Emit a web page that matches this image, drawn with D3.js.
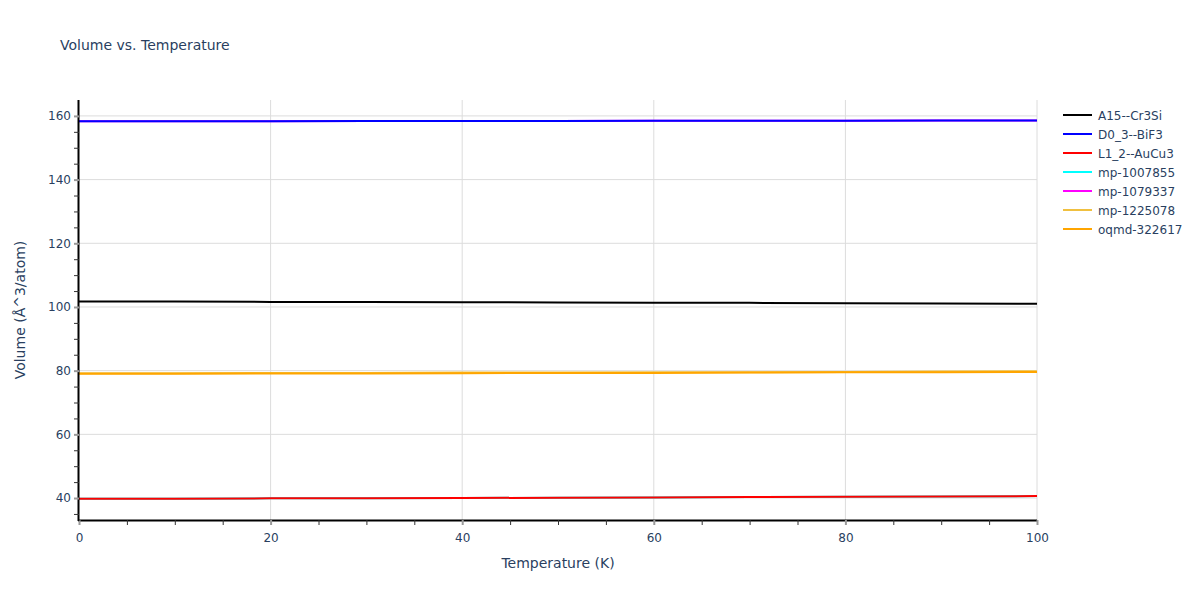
<!DOCTYPE html>
<html><head><meta charset="utf-8">
<script src="https://cdn.jsdelivr.net/npm/d3@7"></script>
<style>body{margin:0;background:#fff}svg{display:block}text{font-family:"DejaVu Sans",Verdana,sans-serif;fill:#2a3f5f}</style>
</head><body><svg id="c" width="1200" height="600"></svg>
<script>
const temps = [0, 10, 20, 30, 40, 50, 60, 70, 80, 90, 100];
const seriesNames = ["A15--Cr3Si","D0_3--BiF3","L1_2--AuCu3","mp-1007855","mp-1079337","mp-1225078","oqmd-322617"];
const seriesColors = ["#000000","#0000ff","#ff0000","#00ffff","#ff00ff","#f0c040","#ffa500"];
const vA15   = [101.7,101.7,101.6,101.6,101.5,101.4,101.3,101.3,101.2,101.1,101.0];
const vD03   = [158.3,158.3,158.3,158.4,158.4,158.4,158.5,158.5,158.5,158.6,158.6];
const vL12   = [39.8,39.8,39.9,39.9,40.0,40.1,40.2,40.3,40.4,40.5,40.6];
const vMp1007855 = [39.8,39.8,39.9,39.9,40.0,40.1,40.2,40.3,40.4,40.5,40.6];
const vMp1079337 = [158.3,158.3,158.3,158.4,158.4,158.4,158.5,158.5,158.5,158.6,158.6];
const vMp1225078 = [79.2,79.2,79.3,79.3,79.4,79.4,79.5,79.5,79.6,79.7,79.8];
const vOqmd  = [79.0,79.0,79.1,79.1,79.2,79.3,79.3,79.4,79.5,79.5,79.6];
const seriesValues = [vA15, vD03, vL12, vMp1007855, vMp1079337, vMp1225078, vOqmd];
const xTicks = [0,20,40,60,80,100];
const yTicks = [40,60,80,100,120,140,160];

const svg = d3.select("#c");
const L=79, R=1037, T=100, B=520;
const x = d3.scaleLinear().domain([0,100]).range([L,R]);
const y = d3.scaleLinear().domain([33.1,165.0]).range([B,T]);

// grid
svg.append("g").selectAll("line").data(xTicks.slice(1)).join("line")
  .attr("x1",d=>x(d)).attr("x2",d=>x(d)).attr("y1",T).attr("y2",B)
  .attr("stroke","#dcdcdc").attr("stroke-width",1);
svg.append("g").selectAll("line").data(yTicks).join("line")
  .attr("x1",L).attr("x2",R).attr("y1",d=>y(d)).attr("y2",d=>y(d))
  .attr("stroke","#dcdcdc").attr("stroke-width",1);

// lines (draw hidden series first so visible ones cover)
const order = [3,4,5,0,1,2,6];
const line = d3.line().x((d,i)=>x(temps[i])).y(d=>y(d));
const gl = svg.append("g");
order.forEach(k=>{
  gl.append("path").datum(seriesValues[k]).attr("d",line)
    .attr("fill","none").attr("stroke",seriesColors[k]).attr("stroke-width",2);
});

// axes
const xAxis = d3.axisBottom(x).tickValues(d3.range(0,101,5)).tickSize(5).tickFormat(d=>xTicks.includes(d)?d:"");
const gx = svg.append("g").attr("transform",`translate(0,${B})`).call(xAxis);
gx.select(".domain").attr("stroke","#000").attr("stroke-width",2).attr("d",`M${L-1},0.5H${R}`);
gx.selectAll(".tick line").attr("stroke",d=>xTicks.includes(d)?"#999":"#333").attr("stroke-width",d=>xTicks.includes(d)?2:1);
gx.selectAll(".tick text").attr("font-size",12).attr("fill","#2a3f5f").attr("dy","1.15em").style("font-family",'"DejaVu Sans",Verdana,sans-serif');

const yAxis = d3.axisLeft(y).tickValues(d3.range(35,165,5)).tickSize(5).tickFormat(d=>yTicks.includes(d)?d:"");
const gy = svg.append("g").attr("transform",`translate(${L},0)`).call(yAxis);
gy.select(".domain").attr("stroke","#000").attr("stroke-width",2).attr("d",`M-0.5,${T}V${B+1}`);
gy.selectAll(".tick line").attr("stroke",d=>yTicks.includes(d)?"#999":"#333").attr("stroke-width",d=>yTicks.includes(d)?2:1);
gy.selectAll(".tick text").attr("font-size",12).attr("fill","#2a3f5f").attr("x",-8).style("font-family",'"DejaVu Sans",Verdana,sans-serif');

// titles
svg.append("text").attr("x",60).attr("y",50).attr("font-size",14).text("Volume vs. Temperature");
svg.append("text").attr("x",(L+R)/2).attr("y",568).attr("text-anchor","middle").attr("font-size",14).text("Temperature (K)");
svg.append("text").attr("transform",`translate(25,${(T+B)/2}) rotate(-90)`).attr("text-anchor","middle").attr("font-size",14).text("Volume (Å^3/atom)");

// legend
const lg = svg.append("g");
seriesNames.forEach((n,i)=>{
  const yy = 115 + i*19;
  lg.append("line").attr("x1",1063).attr("x2",1092).attr("y1",yy).attr("y2",yy).attr("stroke",seriesColors[i]).attr("stroke-width",2);
  lg.append("text").attr("x",1098).attr("y",yy+4.5).attr("font-size",12).text(n);
});
</script></body></html>
